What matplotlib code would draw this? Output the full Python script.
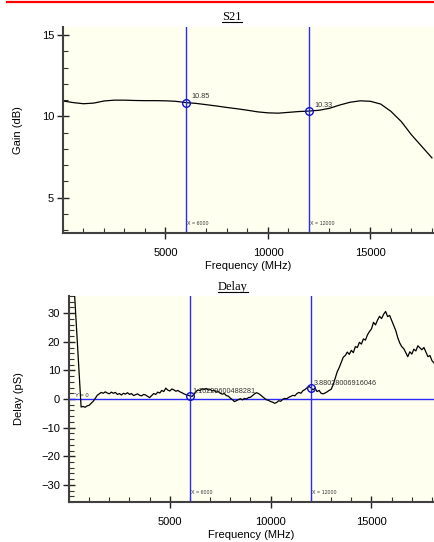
import matplotlib
matplotlib.use("Agg")
import matplotlib.pyplot as plt
from matplotlib.lines import Line2D
from matplotlib.ticker import MultipleLocator

plt.rcParams['font.family'] = ['Liberation Sans', 'DejaVu Sans']

# ---------------- data ----------------
gain_freq = [0, 500, 1000, 1500, 2000, 2500, 3000, 3500, 4000, 4500, 5000, 5500,
             6000, 6500, 7000, 7500, 8000, 8500, 9000, 9500, 10000, 10500, 11000,
             11500, 12000, 12500, 13000, 13500, 14000, 14500, 15000, 15500, 16000,
             16500, 17000, 17500, 18000]
gain_db = [10.95, 10.85, 10.78, 10.82, 10.95, 11.0, 11.0, 10.98, 10.97, 10.97, 10.96,
           10.93, 10.85, 10.8, 10.72, 10.64, 10.55, 10.47, 10.38, 10.28, 10.22, 10.2,
           10.25, 10.3, 10.33, 10.38, 10.5, 10.7, 10.87, 10.96, 10.93, 10.76, 10.31,
           9.69, 8.87, 8.16, 7.45]

delay_freq = [0] + list(range(600, 18101, 100))
delay_ps = [70,
            -2.8, -2.6, -2.9, -2.4,
            -2.2, -1.5, -0.8, 0.2, 1.3, 1.8, 2.3, 2.0, 2.5, 2.1,
            1.8, 2.4, 2.0, 2.3, 1.6, 1.9, 1.4, 2.0, 1.7, 2.2,
            1.6, 1.9, 1.2, 1.5, 1.8, 1.3, 1.1, 1.6, 1.4, 0.9,
            0.5, 1.2, 1.9, 1.6, 2.4, 2.1, 3.0, 2.6, 3.8, 3.1,
            2.8, 3.5, 3.2, 2.7, 3.0, 2.5, 2.2, 1.8, 1.5, 1.3,
            1.1, 0.9, 1.6, 2.6, 3.2, 2.9, 3.6, 3.3, 3.7, 3.1,
            3.4, 2.8, 3.0, 2.4, 2.6, 2.0, 1.7, 1.9, 1.2, 1.0,
            0.3, -0.2, -0.9, -0.6, -0.2, 0.1, -0.3, 0.2, 0.0, 0.5,
            0.6, 1.2, 1.8, 2.2, 1.9, 1.4, 0.8, 0.2, -0.3, -0.5,
            -0.9, -1.1, -1.5, -1.2, -0.6, -0.8, -0.1, 0.2, 0.1, 0.6,
            0.9, 1.3, 1.1, 1.9, 2.3, 2.0, 2.9, 3.3, 3.9, 4.4,
            3.9, 3.2, 3.8, 2.6, 3.0, 2.0, 1.8, 2.1, 2.5, 3.0,
            3.4, 5.0, 7.2, 9.5, 11.0, 12.8, 14.6, 15.2, 16.4, 15.6,
            17.0, 16.2, 18.3, 18.0, 19.8, 19.2, 21.0, 20.6, 22.4, 23.6,
            24.5, 26.8, 25.9, 27.6, 28.9, 28.1, 29.6, 30.6, 28.8, 29.2,
            27.5, 25.8, 24.0, 21.5, 19.6, 18.3, 17.6, 16.2, 14.8, 16.5,
            15.7, 17.4, 16.8, 18.6, 17.9, 17.2, 18.0, 16.4, 14.8, 15.2,
            13.4, 12.6]

marker_x = [6000, 12000]
gain_marker_y = [10.85, 10.33]
gain_marker_lbl = ["10.85", "10.33"]
delay_marker_y = [1.10229600488281, 3.88028006916046]
delay_marker_lbl = ["1.10229600488281", "3.88028006916046"]
x_ticks = [5000, 10000, 15000]

# ---------------- figure ----------------
W, H = 435, 542
fig = plt.figure(figsize=(W / 100, H / 100), dpi=100)
fig.patch.set_facecolor('white')

bg = '#FFFFF0'
blue = '#2a2aff'
spc = '#404040'

def px_axes(l, t, r, b):
    return fig.add_axes([l / W, 1 - b / H, (r - l) / W, (b - t) / H])

ax1 = px_axes(63, 27, 434, 233)
ax2 = px_axes(69, 296, 434, 502)

def style(ax, ymajor, yminor):
    ax.set_facecolor(bg)
    for s in ['top', 'right']:
        ax.spines[s].set_visible(False)
    for s in ['left', 'bottom']:
        ax.spines[s].set_color(spc)
        ax.spines[s].set_linewidth(1.5)
    ax.set_xlim(0, 18100)
    ax.set_xticks(x_ticks)
    ax.xaxis.set_minor_locator(MultipleLocator(1000))
    ax.yaxis.set_major_locator(MultipleLocator(ymajor))
    ax.yaxis.set_minor_locator(MultipleLocator(yminor))
    ax.tick_params(which='major', direction='inout', length=9, width=1.0,
                   color='#222222', labelsize=8, pad=2)
    ax.tick_params(which='minor', direction='in', length=3.5, width=0.8,
                   color='#333333')
    ax.tick_params(axis='x', which='major', pad=6)
    ax.set_xlabel('Frequency (MHz)', fontsize=8, labelpad=2.5)

# ---- S21 ----
style(ax1, 5, 1)
ax1.set_ylim(2.83, 15.5)
ax1.plot(gain_freq, gain_db, color='black', lw=0.9)
for xv, yv, lb in zip(marker_x, gain_marker_y, gain_marker_lbl):
    ax1.axvline(xv, color=blue, lw=1.0)
    ax1.plot([xv], [yv], 'o', mfc='none', mec='#1010cc', mew=1.0, ms=5.5)
    ax1.annotate(lb, (xv, yv), xytext=(4, 3), textcoords='offset points',
                 fontsize=5.2, color='#333333')
    ax1.annotate('X = %d' % xv, (xv, 2.83), xytext=(1, 6), textcoords='offset points',
                 fontsize=3.8, color='#333333')
ax1.set_ylabel('Gain (dB)', fontsize=8, labelpad=13.5)

# ---- Delay ----
style(ax2, 10, 2)
ax2.set_ylim(-36, 36)
ax2.axhline(0, color=blue, lw=1.0)
ax2.plot(delay_freq, delay_ps, color='black', lw=0.9)
for xv, yv, lb in zip(marker_x, delay_marker_y, delay_marker_lbl):
    ax2.axvline(xv, color=blue, lw=1.0)
    ax2.plot([xv], [yv], 'o', mfc='none', mec='#1010cc', mew=1.0, ms=5.5)
    ax2.annotate(lb, (xv, yv), xytext=(2, 2), textcoords='offset points',
                 fontsize=5.2, color='#333333')
    ax2.annotate('X = %d' % xv, (xv, -36), xytext=(1, 6), textcoords='offset points',
                 fontsize=3.8, color='#333333')
ax2.annotate('Y = 0', (0, 0), xytext=(4, 1.5), textcoords='offset points',
             fontsize=4.2, color='#333333')
ax2.set_ylabel('Delay (pS)', fontsize=8, labelpad=12)

# ---- titles (underlined, serif) ----
t1 = fig.text(232 / W, 1 - 17 / H, 'S21', ha='center', va='center',
              family='Liberation Serif', fontsize=9)
t2 = fig.text(233 / W, 1 - 287 / H, 'Delay', ha='center', va='center',
              family='Liberation Serif', fontsize=9)
fig.canvas.draw()
r = fig.canvas.get_renderer()
for t in (t1, t2):
    bb = t.get_window_extent(r)
    yline = bb.y0 + 1
    fig.add_artist(Line2D([bb.x0 / W, bb.x1 / W], [yline / H, yline / H],
                          transform=fig.transFigure, color='black', lw=0.8))

# red line at top
fig.add_artist(Line2D([7 / W, 1.0], [1 - 2 / H, 1 - 2 / H], transform=fig.transFigure,
                      color='red', lw=1.6))

fig.savefig('out.png', dpi=100, facecolor='white')
